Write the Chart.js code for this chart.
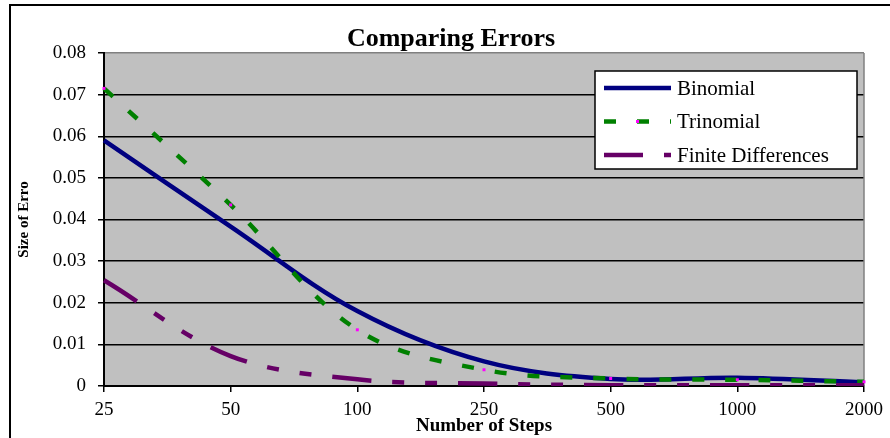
<!DOCTYPE html>
<html><head><meta charset="utf-8">
<script src="https://cdn.jsdelivr.net/npm/chart.js@4/dist/chart.umd.min.js"></script>
<style>html,body{margin:0;padding:0;background:#fff;} #wrap{width:890px;height:438px;position:relative;}</style>
</head><body><div id="wrap"><canvas id="c" width="890" height="438"></canvas></div>
<script>
const categories = ['25','50','100','250','500','1000','2000'];
const binomial   = [0.0590, 0.0383, 0.0180, 0.0059, 0.0017, 0.0020, 0.0009];
const trinomial  = [0.0715, 0.0435, 0.0135, 0.0039, 0.0018, 0.0015, 0.0010];
const finiteDiff = [0.0254, 0.0072, 0.0016, 0.0006, 0.0002, 0.0002, 0.0002];
const seriesNames = ['Binomial', 'Trinomial', 'Finite Differences'];
const yTickLabels = ['0','0.01','0.02','0.03','0.04','0.05','0.06','0.07','0.08'];
const chartTitle = 'Comparing Errors';
const xTitle = 'Number of Steps';
const yTitle = 'Size of Erro';

const SERIF = "'Liberation Serif', 'Times New Roman', serif";

const framePlugin = {
  id: 'frame',
  beforeDraw(chart) {
    const {ctx, chartArea: a} = chart;
    ctx.save();
    ctx.fillStyle = '#fff'; ctx.fillRect(0, 0, chart.width, chart.height);
    ctx.fillStyle = '#c0c0c0'; ctx.fillRect(a.left, a.top, a.right - a.left, a.bottom - a.top);
    ctx.strokeStyle = '#000'; ctx.lineWidth = 2;
    ctx.beginPath(); ctx.moveTo(10, chart.height + 5); ctx.lineTo(10, 5); ctx.lineTo(chart.width + 5, 5); ctx.stroke();
    ctx.restore();
  },
  beforeDatasetsDraw(chart) {
    const {ctx, chartArea: a} = chart;
    ctx.save();
    ctx.strokeStyle = '#808080'; ctx.lineWidth = 1.5;
    ctx.beginPath(); ctx.moveTo(a.right, a.top); ctx.lineTo(a.right, a.bottom); ctx.stroke();
    ctx.restore();
  },
  afterDraw(chart) {
    const ctx = chart.ctx;
    ctx.save();
    ctx.font = 'bold 26px ' + SERIF;
    ctx.fillStyle = '#000'; ctx.textAlign = 'center'; ctx.textBaseline = 'middle';
    ctx.fillText(chartTitle, 451, 39);
    // legend box
    const x0 = 595, y0 = 71, w = 262, h = 98;
    ctx.fillStyle = '#fff'; ctx.fillRect(x0, y0, w, h);
    ctx.strokeStyle = '#000'; ctx.lineWidth = 1.5; ctx.strokeRect(x0, y0, w, h);
    ctx.font = '21px ' + SERIF; ctx.textAlign = 'left'; ctx.textBaseline = 'middle';
    chart.data.datasets.forEach((ds, i) => {
      const y = y0 + 17 + i * 33.5;
      ctx.save();
      ctx.strokeStyle = ds.borderColor; ctx.lineWidth = ds.borderWidth;
      ctx.setLineDash(ds.borderDash || []);
      ctx.beginPath(); ctx.moveTo(604, y); ctx.lineTo(671, y); ctx.stroke();
      ctx.restore();
      if (ds.pointRadius > 0) { ctx.fillStyle = ds.pointBackgroundColor; ctx.fillRect(636, y - 1.5, 3, 3); }
      ctx.fillStyle = '#000';
      ctx.fillText(ds.label, 677, y + 1);
    });
    ctx.restore();
  }
};

new Chart(document.getElementById('c'), {
  type: 'line',
  data: {
    labels: categories,
    datasets: [
      {label: seriesNames[0], data: binomial, borderColor: '#000080', borderWidth: 4.5,
       pointRadius: 0, tension: 0.35, fill: false, order: 3},
      {label: seriesNames[1], data: trinomial, borderColor: '#008000', borderWidth: 4.5, borderDash: [12, 21],
       pointStyle: 'rect', pointRadius: 2.1, pointBackgroundColor: '#ff00ff', pointBorderColor: '#ff00ff', pointBorderWidth: 0,
       tension: 0.35, fill: false, order: 2},
      {label: seriesNames[2], data: finiteDiff, borderColor: '#660066', borderWidth: 4.5, borderDash: [39, 21, 12, 21, 12, 21],
       pointRadius: 0, tension: 0.35, fill: false, order: 1}
    ]
  },
  options: {
    responsive: false, animation: false, devicePixelRatio: 1,
    layout: {padding: {left: 12, right: 22, top: 53, bottom: 0}},
    plugins: {legend: {display: false}, tooltip: {enabled: false}, title: {display: false}},
    scales: {
      x: {
        type: 'category', offset: false,
        grid: {drawOnChartArea: false, drawTicks: true, tickLength: 6, color: '#000', lineWidth: 1.5},
        border: {display: true, color: '#000', width: 2},
        ticks: {font: {family: SERIF, size: 19, lineHeight: 1.2}, color: '#000', padding: 7, maxRotation: 0, autoSkip: false},
        title: {display: true, text: xTitle, color: '#000',
                font: {family: SERIF, size: 19, weight: 'bold', lineHeight: 1.2}, padding: {top: 0, bottom: 1}},
        afterFit(s) { s.height = 52; }
      },
      y: {
        min: 0, max: 0.08,
        ticks: {stepSize: 0.01, color: '#000', padding: 12, font: {family: SERIF, size: 19},
                callback: (v) => yTickLabels[Math.round(v * 100)]},
        grid: {color: (c) => (c.tick && c.tick.value > 0.0799) ? '#808080' : '#000', tickColor: '#000',
               lineWidth: 1.5, tickLength: 6},
        border: {display: true, color: '#000', width: 2},
        title: {display: true, text: yTitle, color: '#000',
                font: {family: SERIF, size: 15, weight: 'bold', lineHeight: 1.2}, padding: {top: 3, bottom: 0}},
        afterFit(s) { s.width = 92; }
      }
    }
  },
  plugins: [framePlugin]
});
</script>
</body></html>
